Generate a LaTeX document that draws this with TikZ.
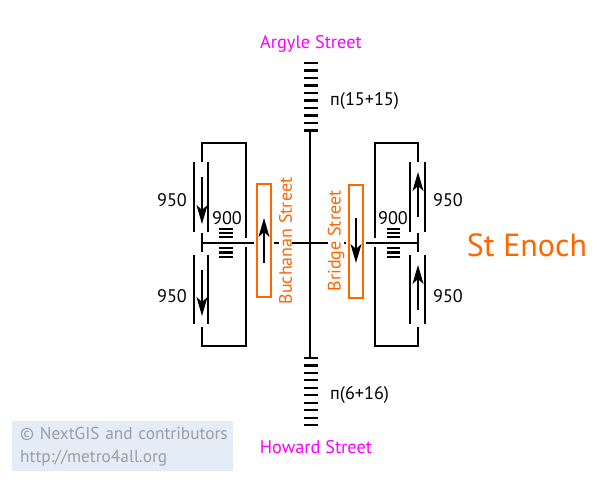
\documentclass[tikz,border=0pt]{standalone}
\usepackage{fontspec}
\setmainfont{PT Sans}
\usetikzlibrary{arrows.meta}
\definecolor{labelorange}{HTML}{FF6600}
\definecolor{exitmagenta}{HTML}{FF00FF}
\definecolor{noticeblue}{HTML}{E3ECF7}
\definecolor{noticegray}{HTML}{9A9FA6}
\tikzset{
  wall/.style={line width=2.1pt, black},
  tick/.style={line width=2.1pt, black},
  flow/.style={line width=1.8pt, black, -{Stealth[length=19pt, width=11pt, inset=5pt]}},
  streetbox/.style={draw=labelorange, line width=2.2pt, fill=white, minimum width=14pt,
    minimum height=113pt, inner sep=0pt, preaction={draw=white, line width=6pt}},
  streetname/.style={text=labelorange, font=\fontsize{18}{18}\selectfont, rotate=90, inner sep=0pt, fill=white},
  exitname/.style={text=exitmagenta, font=\fontsize{18.3}{18.3}\selectfont, inner sep=0pt},
  width label/.style={font=\fontsize{18.2}{18.2}\selectfont, inner sep=0pt},
}
\begin{document}
\begin{tikzpicture}[x=1pt, y=-1pt]
  \useasboundingbox (0, 0) rectangle (597, 492);

  % stairs
  \foreach \y in {0, 1, ..., 9} {
    \draw[tick] (304, 63 + 7.5*\y) -- (318, 63 + 7.5*\y);
    \draw[tick] (304, 358 + 7.45*\y) -- (318, 358 + 7.45*\y);
  }
  \foreach \y in {229, 233, 237, 248, 252.5, 257} {
    \draw[tick] (219, \y) -- (233, \y);
    \draw[tick] (387, \y) -- (400, \y);
  }

  % corridors
  \coordinate (topstair) at (310, 130);
  \coordinate (botstair) at (310, 358);
  \coordinate (midleft) at (202, 243);
  \coordinate (midright) at (418, 243);
  \draw[wall] (topstair) -- (botstair);
  \draw[wall] (midleft) -- (midright);

  % left hall
  \coordinate (ltop) at (202, 162);
  \coordinate (lbot) at (202, 327);
  \draw[wall] (ltop) -- (202, 143) -- (246, 143) -- (246, 238);
  \draw[wall] (lbot) -- (202, 346) -- (246, 346) -- (246, 247);
  \draw[wall] (202, 233) -- (202, 252);
  \draw[wall] (194, 162) -- (194, 232);
  \draw[wall] (208, 162) -- (208, 232);
  \draw[wall] (194, 255) -- (194, 324);
  \draw[wall] (208, 255) -- (208, 324);

  % right hall
  \coordinate (rtop) at (418, 162);
  \coordinate (rbot) at (418, 327);
  \draw[wall] (rtop) -- (418, 143) -- (375, 143) -- (375, 238);
  \draw[wall] (rbot) -- (418, 346) -- (375, 346) -- (375, 247);
  \draw[wall] (418, 233) -- (418, 252);
  \draw[wall] (410, 162) -- (410, 232);
  \draw[wall] (425, 162) -- (425, 232);
  \draw[wall] (410, 255) -- (410, 324);
  \draw[wall] (425, 255) -- (425, 324);

  % street labels sit over the corridor
  \node[streetname] (buchanan) at (285.5, 241) {Buchanan Street};
  \node[streetname] (bridge) at (336, 241) {Bridge Street};
  \node[streetbox] (boxleft) at (264, 240.5) {};
  \node[streetbox] (boxright) at (356, 241.5) {};

  % flow arrows
  \draw[flow] (202, 177) -- (202, 224);
  \draw[flow] (202, 270) -- (202, 316);
  \draw[flow] (264, 263) -- (264, 218);
  \draw[flow] (356, 218) -- (356, 263);
  \draw[flow] (418, 217) -- (418, 172);
  \draw[flow] (418, 310) -- (418, 265);

  % widths
  \node[width label] (wa) at (172, 200) {950};
  \node[width label] (wb) at (172, 296) {950};
  \node[width label] (wc) at (227, 218) {900};
  \node[width label] (wd) at (393, 218) {900};
  \node[width label] (we) at (448, 200) {950};
  \node[width label] (wf) at (448, 296) {950};
  \node[width label, anchor=west] (sa) at (330, 101) {п(15+15)};
  \node[width label, anchor=west] (sb) at (330, 395) {п(6+16)};

  \node[exitname] (argyle) at (311, 43.5) {Argyle Street};
  \node[exitname] (howard) at (316, 447) {Howard Street};
  \node[text=labelorange, font=\fontsize{32}{32}\selectfont, inner sep=0pt] (station) at (527, 245) {St Enoch};

  \node[fill=noticeblue, text=noticegray, font=\fontsize{17.3}{23}\selectfont, align=left, anchor=north west,
    text width=205pt, minimum height=50pt, inner xsep=8pt, inner ysep=0pt] (notice) at (12, 421)
    {\mbox{© NextGIS and contributors}\\http://metro4all.org};
\end{tikzpicture}
\end{document}
